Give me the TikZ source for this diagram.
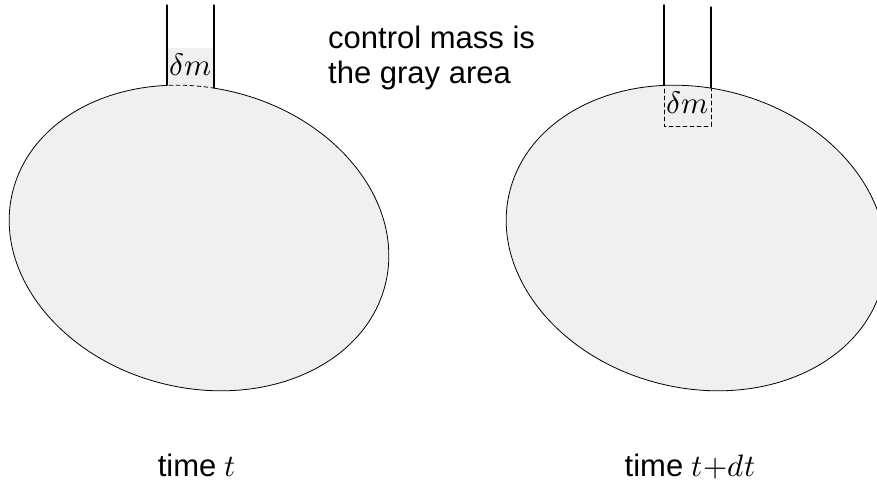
\documentclass[tikz,border=0pt]{standalone}
\usepackage{unicode-math}
\setmainfont{Liberation Sans}
\setmathfont{Latin Modern Math}
\definecolor{massgray}{HTML}{F0F0F0}
\begin{document}
\begin{tikzpicture}[
        x=1pt,y=-1pt,
        wall/.style={line width=1.1pt},
        rim/.style={line width=.8pt},
        opening/.style={line width=.8pt,dash pattern=on 4pt off 3pt},
        lbl/.style={font=\fontsize{31}{37}\selectfont,inner sep=0pt},
        line cap=round,line join=round
    ]
    \clip (0,0) rectangle (877,485);
    \useasboundingbox (0,0) rectangle (877,485);
    % time t: control mass partly in the pipe
    \coordinate (la) at (167,5);   \coordinate (la') at (167,120);
    \coordinate (lb) at (214,5);   \coordinate (lb') at (214,120);
    \fill[massgray] (167,48) rectangle (lb');
    \draw[wall] (la) -- (la') (lb) -- (lb');
    \begin{scope}[shift={(199,238)},rotate=-14]
        \fill[massgray] (0,0) ellipse [x radius=192,y radius=150];
    \end{scope}
    \begin{scope}
        \clip (0,0) rectangle (167,485) (214,0) rectangle (877,485) (167,130) rectangle (214,485);
        \draw[rim,shift={(199,238)},rotate=-14] (0,0) ellipse [x radius=192,y radius=150];
    \end{scope}
    \begin{scope}
        \clip (167,0) rectangle (214,130);
        \draw[opening,shift={(199,238)},rotate=-14] (0,0) ellipse [x radius=192,y radius=150];
    \end{scope}
    \node[lbl,anchor=base] (dmA) at (190.5,75) {$\delta m$};
    % time t+dt: the same mass, now all inside
    \coordinate (ra) at (664,5);   \coordinate (ra') at (664,120);
    \coordinate (rb) at (711,7);   \coordinate (rb') at (711,120);
    \draw[wall] (ra) -- (ra') (rb) -- (rb');
    \begin{scope}[shift={(696,238)},rotate=-14]
        \fill[massgray] (0,0) ellipse [x radius=192,y radius=150];
    \end{scope}
    \coordinate (boxA) at (664,89);
    \coordinate (boxB) at (711,89);
    \draw[opening] (boxA) |- (711,126) -- (boxB);
    \draw[rim,shift={(696,238)},rotate=-14] (0,0) ellipse [x radius=192,y radius=150];
    \node[lbl,anchor=base] (dmB) at (687.5,113) {$\delta m$};
    % labels
    \node[lbl,anchor=base west] (noteA) at (328,48) {control mass is};
    \node[lbl,anchor=base west] (noteB) at (328,83) {the gray area};
    \node[lbl,anchor=base] (timeA) at (197,476) {time $t$};
    \node[lbl,anchor=base] (timeB) at (690,476) {time $t{+}dt$};
\end{tikzpicture}
\end{document}
